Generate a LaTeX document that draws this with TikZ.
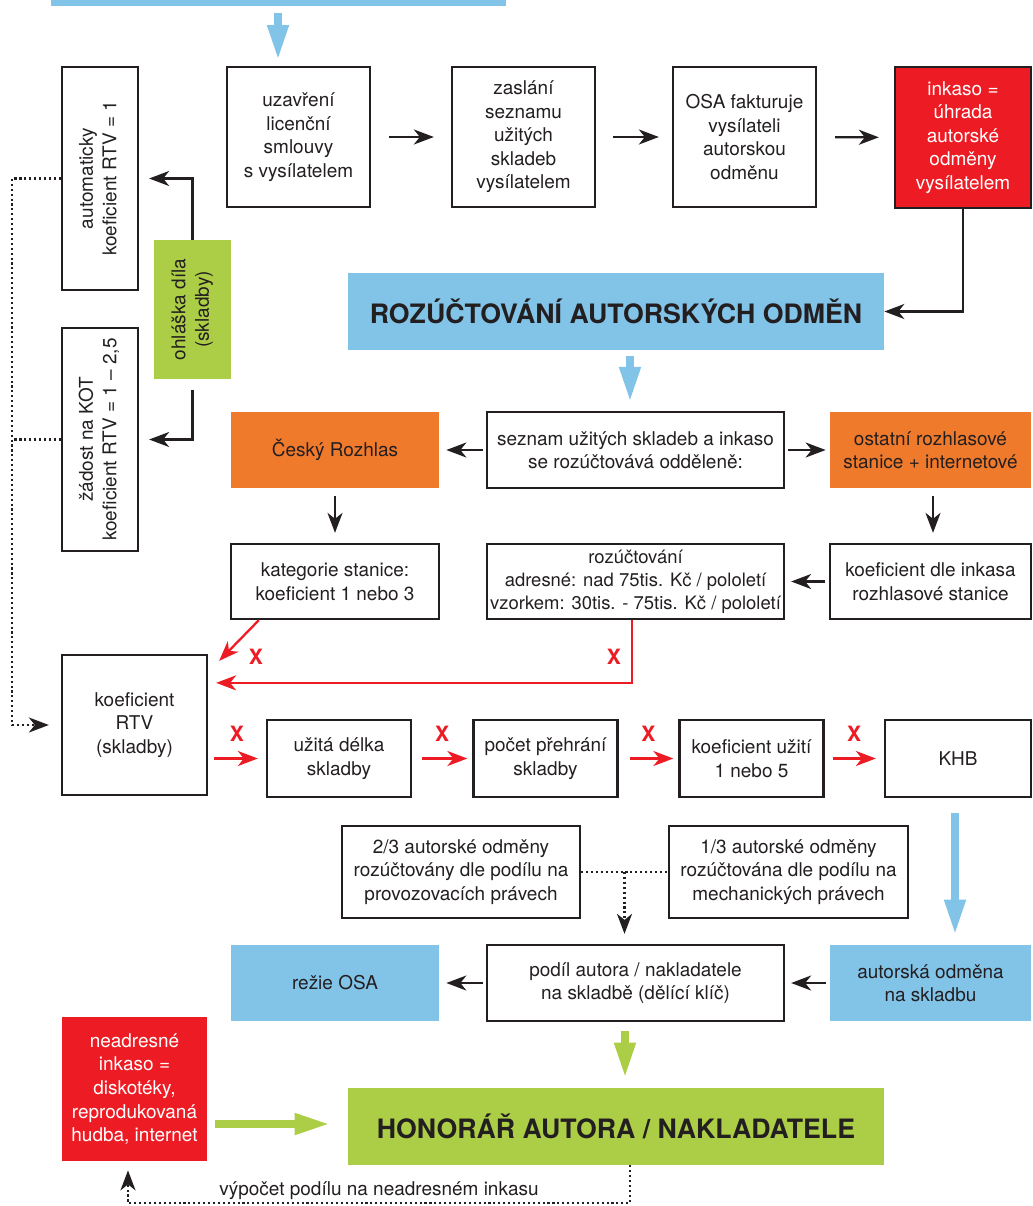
\documentclass[tikz,border=0pt]{standalone}
\usepackage{fontspec}
\setmainfont{TeX Gyre Heros}
\usetikzlibrary{arrows.meta,calc}

\definecolor{osablue}{RGB}{130,195,232}
\definecolor{osagreen}{RGB}{172,206,70}
\definecolor{osaorange}{RGB}{240,122,44}
\definecolor{osared}{RGB}{237,28,36}
\definecolor{ink}{RGB}{35,31,32}

\newcommand{\vtext}[1]{\rotatebox{90}{\begin{tabular}{@{}c@{}}#1\end{tabular}}}

\tikzset{
	sz/.style 2 args={minimum width=0.02cm*#1, minimum height=0.02cm*#2},
	txt/.style={align=center, inner sep=2pt, text=ink, font=\fontsize{10.8}{13.4}\selectfont},
	box/.style={txt, draw=ink, line width=1.3pt},
	fbox/.style={txt, fill=#1},
	title/.style={fill=#1, text=ink, inner sep=2pt, font=\bfseries\fontsize{15.2}{18}\selectfont},
	tip/.style={-{Stealth[length=0.4cm,width=0.3cm,inset=0.12cm]}},
	arr/.style={draw=ink, line width=1.3pt, tip},
	redarr/.style={draw=osared, line width=1.3pt, tip},
	dots/.style={draw=ink, line width=1.4pt, dash pattern=on 1.2pt off 1.6pt},
	dotarr/.style={dots, tip},
	bigarr/.style={draw=#1, line width=0.15cm, -{Triangle[width=0.4cm,length=0.7cm]}},
	xlab/.style={text=osared, inner sep=0pt, font=\bfseries\fontsize{12}{12}\selectfont},
}

\begin{document}
\begin{tikzpicture}[x=0.02cm, y=-0.02cm]

	\useasboundingbox (0,0) rectangle (1033,1206);

	% top row
	\node [fbox=osablue, sz={455}{12}] (zdroj) at (278.5,0) {};
	\node [box, sz={143}{140}] (smlouva) at (298.5,137) {uzavření\\licenční\\smlouvy\\s vysílatelem};
	\node [box, sz={143}{140}] (seznamskl) at (523.5,137) {zaslání\\seznamu\\užitých\\skladeb\\vysílatelem};
	\node [box, sz={143}{140}] (faktura) at (744.5,137) {OSA fakturuje\\vysílateli\\autorskou\\odměnu};
	\node [box, fill=osared, text=white, sz={136}{141}] (inkaso) at (963,137.5) {inkaso =\\úhrada\\autorské\\odměny\\vysílatelem};

	% left column
	\node [box, sz={76}{223}] (auto) at (100,178.5) {\vtext{automaticky\\koeficient RTV = 1}};
	\node [box, sz={76}{223}] (zadost) at (100,439.5) {\vtext{žádost na KOT\\koeficient RTV = 1 -- 2,5}};
	\node [fbox=osagreen, sz={77}{139}] (ohlaska) at (192.5,309.5) {\vtext{ohláška díla\\(skladby)}};

	\node [title=osablue, sz={536}{77}] (rozuct) at (616,311.5) {ROZÚČTOVÁNÍ AUTORSKÝCH ODMĚN};

	% stations
	\node [fbox=osaorange, sz={208}{76}] (cesky) at (335,450) {Český Rozhlas};
	\node [box, sz={297}{76}] (seznam) at (635.5,450) {seznam užitých skladeb a inkaso\\se rozúčtovává odděleně:};
	\node [fbox=osaorange, sz={201}{76}] (ostatni) at (930.5,450) {ostatní rozhlasové\\stanice + internetové};

	\node [box, sz={208}{75}] (kategorie) at (335,581.5) {kategorie stanice:\\koeficient 1 nebo 3};
	\node [box, sz={297}{75}, inner xsep=1pt, font=\fontsize{10.5}{13.2}\selectfont] (adresne) at (635.5,581.5) {rozúčtování\\adresné: nad 75tis. Kč / pololetí\\vzorkem: 30tis. - 75tis. Kč / pololetí};
	\node [box, sz={201}{75}] (dleinkasa) at (930.5,581.5) {koeficient dle inkasa\\rozhlasové stanice};

	% red chain
	\node [box, sz={145}{140}] (rtv) at (134.5,725) {koeficient\\RTV\\(skladby)};
	\node [box, sz={144}{77}] (delka) at (339,758.5) {užitá délka\\skladby};
	\node [box, sz={144}{77}] (pocet) at (545.5,758.5) {počet přehrání\\skladby};
	\node [box, sz={144}{77}] (uziti) at (751.5,758.5) {koeficient užití\\1 nebo 5};
	\node [box, sz={146}{77}] (khb) at (958,758.5) {KHB};

	% split
	\node [box, sz={238}{92}] (dvetretiny) at (461,872) {2/3 autorské odměny\\rozúčtovány dle podílu na\\provozovacích právech};
	\node [box, sz={239}{92}] (tretina) at (788.5,872) {1/3 autorské odměny\\rozúčtována dle podílu na\\mechanických právech};

	\node [fbox=osablue, sz={208}{76}] (rezie) at (335,983) {režie OSA};
	\node [box, sz={297}{76}] (podil) at (635.5,983) {podíl autora / nakladatele\\na skladbě (dělící klíč)};
	\node [fbox=osablue, sz={201}{76}] (odmena) at (930.5,983) {autorská odměna\\na skladbu};

	% bottom
	\node [fbox=osared, text=white, sz={145}{144}] (neadr) at (134.5,1089) {neadresné\\inkaso =\\diskotéky,\\reprodukovaná\\hudba, internet};
	\node [title=osagreen, sz={536}{77}] (honorar) at (616,1126.5) {HONORÁŘ AUTORA / NAKLADATELE};

	% connectors
	\draw [bigarr=osablue, shorten <=0.14cm, shorten >=0.14cm] (zdroj.south -| 278,0) -- (278,67);
	\draw [arr, shorten <=0.36cm, shorten >=0.34cm] (smlouva) -- (seznamskl);
	\draw [arr, shorten <=0.34cm, shorten >=0.26cm] (seznamskl) -- (faktura);
	\draw [arr, shorten <=0.36cm, shorten >=0.3cm] (faktura) -- (inkaso);
	\draw [arr] (inkaso.south) |- (rozuct.east);

	\draw [arr, shorten >=0.2cm] (ohlaska.north) |- (auto.east);
	\draw [arr, shorten <=0.22cm, shorten >=0.2cm] (ohlaska.south) |- (zadost.east);
	\coordinate (dl) at (12,725);
	\draw [dotarr, shorten >=0.24cm] (auto.west) -| (dl) -- (rtv.west);
	\draw [dots] (zadost.west) -- (zadost.west -| dl);

	\draw [bigarr=osablue, shorten <=0.12cm, shorten >=0.18cm] (rozuct.south -| 630,0) -- (seznam.north -| 630,0);
	\draw [arr, shorten <=0.06cm, shorten >=0.14cm] (seznam.west) -- (cesky.east);
	\draw [arr, shorten <=0.06cm, shorten >=0.08cm] (seznam.east) -- (ostatni.west);
	\draw [arr, shorten <=0.16cm, shorten >=0.2cm] (cesky.south) -- (kategorie.north);
	\draw [arr, shorten <=0.16cm, shorten >=0.2cm] (ostatni.south -| 933,0) -- (dleinkasa.north -| 933,0);
	\draw [arr, shorten <=0.08cm, shorten >=0.12cm] (dleinkasa.west) -- (adresne.east);

	\draw [redarr] ([xshift=0.58cm]kategorie.south west) -- ([xshift=0.22cm,yshift=-0.14cm]rtv.north east);
	\node [xlab] (x1) at (256,657) {X};
	\draw [redarr] (adresne.south -| 632,0) |- ([xshift=0.16cm,yshift=-0.58cm]rtv.north east);
	\node [xlab] (x2) at (614,657) {X};

	\draw [redarr, shorten <=0.12cm, shorten >=0.16cm] (rtv.east |- delka) -- (delka.west) node [xlab, midway, above=0.32cm] (x3) {X};
	\draw [redarr, shorten <=0.2cm, shorten >=0.1cm] (delka) -- (pocet) node [xlab, midway, above=0.32cm] (x4) {X};
	\draw [redarr, shorten <=0.22cm, shorten >=0.1cm] (pocet) -- (uziti) node [xlab, midway, above=0.32cm] (x5) {X};
	\draw [redarr, shorten <=0.16cm, shorten >=0.16cm] (uziti) -- (khb) node [xlab, midway, above=0.32cm] (x6) {X};

	\draw [bigarr=osablue, shorten <=0.3cm, shorten >=0.2cm] (khb.south -| 955,0) -- (odmena.north -| 955,0);

	\coordinate (mid) at ($(dvetretiny.east)!0.5!(tretina.west)$);
	\draw [dots] (dvetretiny.east) -- (tretina.west);
	\draw [dotarr, shorten >=0.2cm] (mid) -- (mid |- podil.north);
	\draw [arr, shorten <=0.06cm, shorten >=0.14cm] (podil.west) -- (rezie.east);
	\draw [arr, shorten <=0.08cm, shorten >=0.12cm] (odmena.west) -- (podil.east);

	\draw [bigarr=osagreen, shorten <=0.18cm, shorten >=0.2cm] (podil.south -| 625,0) -- (honorar.north -| 625,0);
	\draw [bigarr=osagreen, shorten <=0.16cm, shorten >=0.36cm] (neadr.east |- 0,1124) -- (honorar.west |- 0,1124);

	\draw [dotarr, shorten >=0.18cm] (honorar.south -| 630,0) -- (630,1203) -- (128,1203) node [midway, above, txt, yshift=-1pt] (vypocet) {výpočet podílu na neadresném inkasu} -- (neadr.south -| 128,0);

\end{tikzpicture}
\end{document}
